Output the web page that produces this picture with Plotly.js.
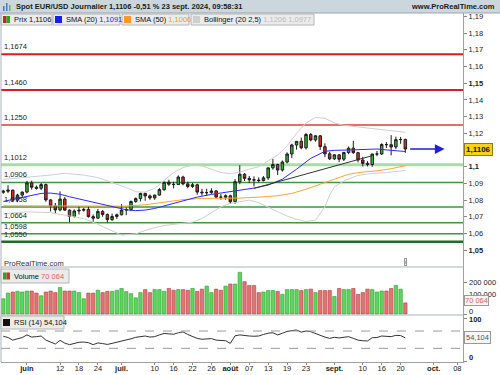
<!DOCTYPE html>
<html><head><meta charset="utf-8">
<script src="https://cdn.plot.ly/plotly-3.0.1.min.js"></script>
<style>html,body{margin:0;padding:0;background:#fff}#chart{width:500px;height:375px}</style>
</head><body><div id="chart"></div>
<script>
// ---------------- DATA ----------------
const dates = [
 '2024-05-27','2024-05-28','2024-05-29','2024-05-30','2024-05-31',
 '2024-06-03','2024-06-04','2024-06-05','2024-06-06','2024-06-07','2024-06-10','2024-06-11','2024-06-12','2024-06-13','2024-06-14',
 '2024-06-17','2024-06-18','2024-06-19','2024-06-20','2024-06-21','2024-06-24','2024-06-25','2024-06-26','2024-06-27','2024-06-28',
 '2024-07-01','2024-07-02','2024-07-03','2024-07-04','2024-07-05','2024-07-08','2024-07-09','2024-07-10','2024-07-11','2024-07-12',
 '2024-07-15','2024-07-16','2024-07-17','2024-07-18','2024-07-19','2024-07-22','2024-07-23','2024-07-24','2024-07-25','2024-07-26',
 '2024-07-29','2024-07-30','2024-07-31','2024-08-01','2024-08-02','2024-08-05','2024-08-06','2024-08-07','2024-08-08','2024-08-09',
 '2024-08-12','2024-08-13','2024-08-14','2024-08-15','2024-08-16','2024-08-19','2024-08-20','2024-08-21','2024-08-22','2024-08-23',
 '2024-08-26','2024-08-27','2024-08-28','2024-08-29','2024-08-30','2024-09-02','2024-09-03','2024-09-04','2024-09-05','2024-09-06',
 '2024-09-09','2024-09-10','2024-09-11','2024-09-12','2024-09-13','2024-09-16','2024-09-17','2024-09-18','2024-09-19','2024-09-20','2024-09-23'];
const opens = [1.0847,1.0853,1.0860,1.0800,1.0830, 1.0848,1.0903,1.0877,1.0871,1.0893,1.0801,1.0765,1.0741,1.0806,1.0740,
 1.0702,1.0735,1.0739,1.0744,1.0701,1.0692,1.0732,1.0714,1.0683,1.0702, 1.0712,1.0740,1.0743,1.0792,1.0809,1.0840,1.0825,1.0813,1.0830,1.0863,
 1.0907,1.0895,1.0893,1.0938,1.0897,1.0882,1.0892,1.0848,1.0844,1.0845, 1.0855,1.0818,1.0817,1.0826,1.0790,1.0910,1.0955,1.0930,1.0922,1.0920,
 1.0917,1.0933,1.0993,1.1013,1.0980,1.1028,1.1076,1.1130,1.1152,1.1113, 1.1193,1.1160,1.1185,1.1120,1.1077,1.1047,1.1071,1.1045,1.1085,1.1111,
 1.1084,1.1040,1.1020,1.1013,1.1076,1.1076,1.1133,1.1132,1.1118,1.1162,1.1163];
const highs = [1.0862,1.0889,1.0862,1.0838,1.0852, 1.0915,1.0916,1.0887,1.0902,1.0899,1.0806,1.0783,1.0852,1.0818,1.0744,
 1.0744,1.0761,1.0753,1.0761,1.0714,1.0747,1.0741,1.0720,1.0719,1.0719, 1.0776,1.0755,1.0797,1.0816,1.0845,1.0845,1.0834,1.0832,1.0872,1.0910,
 1.0922,1.0910,1.0948,1.0946,1.0910,1.0903,1.0898,1.0867,1.0868,1.0871, 1.0859,1.0836,1.0834,1.0832,1.0925,1.1009,1.0962,1.0945,1.0942,1.0936,
 1.0944,1.0995,1.1047,1.1018,1.1037,1.1086,1.1137,1.1153,1.1174,1.1201, 1.1202,1.1190,1.1189,1.1140,1.1089,1.1075,1.1076,1.1089,1.1121,1.1155,
 1.1089,1.1059,1.1033,1.1077,1.1094,1.1140,1.1147,1.1189,1.1180,1.1178,1.1168];
const lows = [1.0838,1.0842,1.0788,1.0788,1.0812, 1.0840,1.0863,1.0863,1.0860,1.0790,1.0732,1.0716,1.0733,1.0736,1.0668,
 1.0695,1.0714,1.0731,1.0695,1.0670,1.0688,1.0700,1.0666,1.0675,1.0687, 1.0709,1.0710,1.0734,1.0784,1.0792,1.0796,1.0802,1.0802,1.0827,1.0855,
 1.0885,1.0870,1.0891,1.0889,1.0871,1.0873,1.0832,1.0827,1.0825,1.0837, 1.0808,1.0802,1.0802,1.0777,1.0778,1.0895,1.0914,1.0902,1.0882,1.0906,
 1.0912,1.0921,1.0982,1.0950,1.0971,1.1020,1.1051,1.1102,1.1105,1.1103, 1.1152,1.1150,1.1100,1.1057,1.1040,1.1040,1.1027,1.1034,1.1075,1.1077,
 1.1026,1.1002,1.1002,1.1000,1.1063,1.1070,1.1112,1.1068,1.1105,1.1137,1.1083];
const closes = [1.0853,1.0860,1.0800,1.0830,1.0848, 1.0903,1.0877,1.0871,1.0893,1.0801,1.0765,1.0741,1.0806,1.0740,1.0702,
 1.0735,1.0739,1.0744,1.0701,1.0692,1.0732,1.0714,1.0683,1.0702,1.0712, 1.0740,1.0743,1.0792,1.0809,1.0840,1.0825,1.0813,1.0830,1.0863,1.0907,
 1.0895,1.0893,1.0938,1.0897,1.0882,1.0892,1.0848,1.0844,1.0845,1.0855, 1.0818,1.0817,1.0826,1.0790,1.0910,1.0955,1.0930,1.0922,1.0920,1.0917,
 1.0933,1.0993,1.1013,1.0980,1.1028,1.1076,1.1130,1.1152,1.1113,1.1193, 1.1160,1.1185,1.1120,1.1077,1.1047,1.1071,1.1045,1.1085,1.1111,1.1084,
 1.1040,1.1020,1.1013,1.1076,1.1076,1.1133,1.1132,1.1118,1.1162,1.1163,1.1106];
const volumes = [96000,132000,139000,143000,139000,145000,145000,132000,115000,139000,145000,135000,167000,145000,145000,145000,135000,96000,132000,132000,
 150000,135000,143000,143000,150000,161000,141000,128000,102000,135000,154000,135000,154000,154000,143000,161000,150000,154000,154000,150000,
 161000,143000,157000,176000,135000,157000,150000,176000,189000,189000,263000,204000,180000,180000,135000,139000,148000,148000,143000,124000,
 154000,154000,154000,148000,154000,157000,135000,148000,148000,148000,111000,161000,154000,154000,161000,124000,135000,157000,154000,139000,
 145000,145000,161000,180000,157000,70064];
const rsi14 = [58,55,49,52,55,61,56,57,58.5,49,44,40,48.5,42,38.5,42,44,44.5,43,38.5,
 42.5,41,39,41.5,44,46,49,52,55.5,57,58.5,56,57,61,64.5,63.5,62.5,66,68,62,
 58,53,51,51.5,52.5,49,47.5,47.5,41.5,59,61,59,58.5,58,58.5,62,65,66,61,65,
 69,71,72.4,67.5,70,68.5,64,61,56,53,55.5,54,56,57,53,49,47.5,47,54.5,55,
 58.5,58,57,60,59.5,54.104];

const sma20Dates = ['2024-05-27','2024-05-31','2024-06-06','2024-06-10','2024-06-12','2024-06-14','2024-06-19','2024-06-24','2024-06-27','2024-07-02','2024-07-04','2024-07-08','2024-07-10','2024-07-15','2024-07-18','2024-07-23','2024-07-26','2024-07-31','2024-08-05','2024-08-08','2024-08-13','2024-08-16','2024-08-21','2024-08-26','2024-08-29','2024-09-02','2024-09-05','2024-09-10','2024-09-13','2024-09-18','2024-09-23'];
const sma20Vals = [1.0792,1.0815,1.0840,1.0842,1.0835,1.0820,1.0800,1.0782,1.0758,1.0742,1.0737,1.0740,1.0750,1.0772,1.0796,1.0818,1.0834,1.0846,1.0858,1.0872,1.0890,1.0925,1.0985,1.1050,1.1092,1.1098,1.1100,1.1104,1.1106,1.1098,1.1091];
const sma50Dates = ['2024-05-27','2024-06-10','2024-06-24','2024-07-02','2024-07-08','2024-07-12','2024-07-18','2024-07-24','2024-07-30','2024-08-05','2024-08-09','2024-08-15','2024-08-20','2024-08-23','2024-08-28','2024-09-02','2024-09-05','2024-09-10','2024-09-13','2024-09-18','2024-09-23'];
const sma50Vals = [1.0766,1.0764,1.0762,1.0764,1.0772,1.0788,1.0803,1.0810,1.0810,1.0812,1.0818,1.0826,1.0840,1.0865,1.0895,1.0925,1.0955,1.0968,1.0975,1.0988,1.1006];
const bbUpDates = ['2024-05-27','2024-06-03','2024-06-10','2024-06-13','2024-06-19','2024-06-24','2024-06-27','2024-07-02','2024-07-04','2024-07-08','2024-07-10','2024-07-12','2024-07-16','2024-07-18','2024-07-22','2024-07-24','2024-07-26','2024-07-30','2024-08-01','2024-08-05','2024-08-07','2024-08-09','2024-08-13','2024-08-15','2024-08-19','2024-08-21','2024-08-23','2024-08-27','2024-08-29','2024-09-02','2024-09-04','2024-09-09','2024-09-12','2024-09-17','2024-09-23'];
const bbUpVals = [1.0924,1.0935,1.0950,1.0960,1.0950,1.0935,1.0905,1.0875,1.0850,1.0848,1.0870,1.0920,1.0965,1.0995,1.1010,1.1005,1.0985,1.0965,1.0958,1.0968,1.0985,1.1000,1.1035,1.1070,1.1125,1.1200,1.1262,1.1295,1.1290,1.1262,1.1248,1.1238,1.1228,1.1220,1.1206];
const bbLoDates = ['2024-05-27','2024-06-03','2024-06-10','2024-06-14','2024-06-19','2024-06-24','2024-06-27','2024-07-01','2024-07-04','2024-07-09','2024-07-12','2024-07-17','2024-07-22','2024-07-24','2024-07-26','2024-07-30','2024-08-01','2024-08-05','2024-08-07','2024-08-09','2024-08-13','2024-08-15','2024-08-19','2024-08-21','2024-08-23','2024-08-27','2024-08-29','2024-08-30','2024-09-02','2024-09-04','2024-09-09','2024-09-12','2024-09-17','2024-09-23'];
const bbLoVals = [1.0718,1.0730,1.0725,1.0705,1.0690,1.0655,1.0615,1.0590,1.0598,1.0628,1.0648,1.0658,1.0668,1.0690,1.0725,1.0760,1.0780,1.0792,1.0800,1.0785,1.0755,1.0730,1.0705,1.0685,1.0672,1.0680,1.0760,1.0830,1.0880,1.0915,1.0948,1.0960,1.0965,1.0977];
const trendDates = ['2024-08-08','2024-09-12'];
const trendVals = [1.0870,1.1066];

const levelValues = [1.1674,1.1460,1.1250,1.1012,1.0906,1.0758,1.0664,1.0598,1.0550];
const levelLabels = ['1,1674','1,1460','1,1250','1,1012','1,0906','1,0758','1,0664','1,0598','1,0550'];
const levelColors = ['#e01b1b','#e01b1b','#e43a3a','#a9dca9','#3a9a3a','#3a9a3a','#3a9a3a','#3a9a3a','#1f6f1f'];
const levelWidths = [2,2,1.5,3,1.5,1.5,1.5,1.5,2.5];

const tickDates = ['2024-06-03','2024-06-12','2024-06-18','2024-06-24','2024-07-01','2024-07-10','2024-07-16','2024-07-22','2024-07-26','2024-08-01','2024-08-07','2024-08-13','2024-08-19','2024-08-23','2024-09-02','2024-09-10','2024-09-16','2024-09-20','2024-10-01','2024-10-08'];
const tickLabels = ['<b>juin</b>','12','18','24','<b>juil.</b>','10','16','22','26','<b>août</b>','07','13','19','23','<b>sept.</b>','10','16','20','<b>oct.</b>','08'];
const priceTicks = [1.05,1.06,1.07,1.08,1.09,1.10,1.11,1.12,1.13,1.14,1.15,1.16,1.17,1.18,1.19];
const priceTickText = ['<b>1,05</b>','1,06','1,07','1,08','1,09','<b>1,1</b>','','1,12','1,13','1,14','<b>1,15</b>','1,16','1,17','1,18','1,19'];

const lastPrice = 1.1106, lastPriceText = '1,1106';
const lastVolText = '70 064', lastRsiText = '54,104';
const titleText = 'Spot EUR/USD Journalier 1,1106 -0,51 % 23 sept. 2024, 09:58:31';

// ---------------- HELPERS ----------------
function tIdx(ds){
  const p=ds.split('-').map(Number);
  const t=Date.UTC(p[0],p[1]-1,p[2]); const s=Date.UTC(2024,4,27);
  let n=0; for(let d=s; d<t; d+=86400000){const w=new Date(d).getUTCDay(); if(w!==0&&w!==6) n++;}
  return n;
}
const X = dates.map(tIdx);
const PL=1, PR=463, PT=13, PB=362;
const px = x => (x-PL)/(PR-PL);
const py = y => (PB-y)/(PB-PT);
const FONT = 'Liberation Sans, Arial, sans-serif';

const green='#2fb82f', red='#e02626';
const volColors = closes.map((c,i)=> c>=opens[i] ? '#5cd65c' : '#e27474');
const volLine = closes.map((c,i)=> c>=opens[i] ? '#2e9e2e' : '#b83c3c');

const traces = [
  {type:'scatter',mode:'lines',x:bbUpDates.map(tIdx),y:bbUpVals,line:{color:'#cfcfcf',width:1},xaxis:'x',yaxis:'y'},
  {type:'scatter',mode:'lines',x:bbLoDates.map(tIdx),y:bbLoVals,line:{color:'#cfcfcf',width:1},xaxis:'x',yaxis:'y'},
  {type:'candlestick',x:X,open:opens,high:highs,low:lows,close:closes,xaxis:'x',yaxis:'y',
    increasing:{line:{color:'#1d1d1d',width:1},fillcolor:green},
    decreasing:{line:{color:'#1d1d1d',width:1},fillcolor:red}},
  {type:'scatter',mode:'lines',x:sma50Dates.map(tIdx),y:sma50Vals,line:{color:'#ffa431',width:1},xaxis:'x',yaxis:'y'},
  {type:'scatter',mode:'lines',x:sma20Dates.map(tIdx),y:sma20Vals,line:{color:'#2a2aff',width:1},xaxis:'x',yaxis:'y'},
  {type:'scatter',mode:'lines',x:trendDates.map(tIdx),y:trendVals,line:{color:'#333',width:1},xaxis:'x',yaxis:'y'},
  {type:'bar',x:X,y:volumes,width:0.72,marker:{color:volColors,line:{color:volLine,width:0.6}},xaxis:'x',yaxis:'y2'},
  {type:'scatter',mode:'lines',x:X,y:rsi14,line:{color:'#333',width:1},xaxis:'x',yaxis:'y3'}
];

const shapes = [];
const ann = [];
shapes.push({type:'rect',xref:'paper',yref:'paper',x0:px(0),x1:px(500),y0:py(13),y1:py(0),fillcolor:'#ccd6dd',line:{width:0},layer:'above'});
shapes.push({type:'line',xref:'paper',yref:'paper',x0:px(0),x1:px(500),y0:py(13),y1:py(13),line:{color:'#9aa6ae',width:1}});
shapes.push({type:'rect',xref:'paper',yref:'paper',x0:px(3),x1:px(4.5),y0:py(11),y1:py(6),fillcolor:'#3a7bd5',line:{width:0}});
shapes.push({type:'rect',xref:'paper',yref:'paper',x0:px(6),x1:px(7.5),y0:py(11),y1:py(3),fillcolor:'#3a7bd5',line:{width:0}});
shapes.push({type:'rect',xref:'paper',yref:'paper',x0:px(9),x1:px(10.5),y0:py(11),y1:py(5),fillcolor:'#6ab04c',line:{width:0}});
ann.push({xref:'paper',yref:'paper',x:px(14),y:py(6.5),xanchor:'left',yanchor:'middle',showarrow:false,text:'<b>'+titleText+'</b>',font:{family:FONT,size:7.5,color:'#1a1a1a'}});
ann.push({xref:'paper',yref:'paper',x:px(497),y:py(6.5),xanchor:'right',yanchor:'middle',showarrow:false,text:'<b>www.ProRealTime.com</b>',font:{family:FONT,size:7.5,color:'#1a1a1a'}});

function legBox(x0,x1,y0,y1){shapes.push({type:'rect',xref:'paper',yref:'paper',x0:px(x0),x1:px(x1),y0:py(y1),y1:py(y0),fillcolor:'#ebebeb',line:{color:'#b5b5b5',width:1},layer:'above'});}
function icon(x0,y0,c1,c2){
  shapes.push({type:'rect',xref:'paper',yref:'paper',x0:px(x0),x1:px(x0+(c2?3.5:7)),y0:py(y0+7),y1:py(y0),fillcolor:c1,line:{width:0},layer:'above'});
  if(c2) shapes.push({type:'rect',xref:'paper',yref:'paper',x0:px(x0+3.5),x1:px(x0+7),y0:py(y0+7),y1:py(y0),fillcolor:c2,line:{width:0},layer:'above'});
}
function legText(x,yc,t){ann.push({xref:'paper',yref:'paper',x:px(x),y:py(yc),xanchor:'left',yanchor:'middle',showarrow:false,text:t,font:{family:FONT,size:7.5,color:'#111'}});}
legBox(1,52,14,25); icon(3,16,'#cc2222','#22aa22'); legText(11.5,19.7,'Prix 1,1106');
legBox(53,120,14,25); icon(55,16,'#1a1aff'); legText(63.5,19.7,'SMA (20) <span style="color:#2222ff">1,1091</span>');
legBox(122,189,14,25); icon(124,16,'#ff9a1e'); legText(132.5,19.7,'SMA (50) <span style="color:#f39a2a">1,1006</span>');
legBox(191,314,14,25); icon(193,16,'#cfcfcf'); legText(201.5,19.7,'Bollinger (20 2,5) <span style="color:#bdbdbd">1,1206 1,0977</span>');

levelValues.forEach((v,i)=>{
  shapes.push({type:'line',xref:'paper',yref:'y',x0:0,x1:1,y0:v,y1:v,line:{color:levelColors[i],width:levelWidths[i]},layer:'below'});
  ann.push({xref:'paper',yref:'y',x:px(2),y:v,xanchor:'left',yanchor:'bottom',yshift:1,showarrow:false,text:levelLabels[i],font:{family:FONT,size:7.5,color:'#222'}});
});
shapes.push({type:'line',xref:'paper',yref:'paper',x0:0,x1:1,y0:py(267),y1:py(267),line:{color:'#a9b3ba',width:1}});
shapes.push({type:'line',xref:'paper',yref:'paper',x0:0,x1:1,y0:py(315),y1:py(315),line:{color:'#a9b3ba',width:1}});
shapes.push({type:'line',xref:'paper',yref:'paper',x0:0,x1:0,y0:0,y1:py(13),line:{color:'#a9b3ba',width:1}});
[70,30].forEach(v=>shapes.push({type:'line',xref:'paper',yref:'y3',x0:0,x1:1,y0:v,y1:v,line:{color:'#9a9a9a',width:1,dash:'dash'}}));

ann.push({xref:'x',yref:'y',x:tIdx('2024-09-23')+8.3,y:lastPrice,axref:'x',ayref:'y',ax:tIdx('2024-09-23')+0.7,ay:lastPrice,
  showarrow:true,arrowhead:2,arrowsize:1.3,arrowwidth:1.5,arrowcolor:'#1f1fdc',text:''});
ann.push({xref:'paper',yref:'y',x:px(464),y:lastPrice,xanchor:'left',yanchor:'middle',showarrow:false,text:'<b>'+lastPriceText+'</b>',
  bgcolor:'#f6d21a',bordercolor:'#8f7a1a',borderwidth:1,borderpad:1,font:{family:FONT,size:8,color:'#111'}});

ann.push({xref:'paper',yref:'paper',x:px(2),y:py(263.5),xanchor:'left',yanchor:'middle',showarrow:false,text:'ProRealTime.com',font:{family:FONT,size:7.5,color:'#333'}});
ann.push({xref:'paper',yref:'paper',x:px(405),y:py(261.5),xanchor:'center',yanchor:'middle',showarrow:false,text:'i',bgcolor:'#f2f2f2',bordercolor:'#9a9a9a',borderwidth:1,borderpad:0,font:{family:FONT,size:6,color:'#666'}});

legBox(1,69,269,283); icon(3,272.5,'#22aa22','#cc3333'); legText(12,276.2,'Volume <span style="color:#e06060">'+lastVolText+'</span>');
legBox(1,64,316,329); icon(3,319,'#111'); legText(12,322.7,'RSI (14) '+lastRsiText);

function rlab(yref,y,t,shift){ann.push({xref:'paper',yref:yref,x:px(467),y:y,xanchor:'left',yanchor:'middle',yshift:shift||0,showarrow:false,text:t,font:{family:FONT,size:7.5,color:'#222'}});}
rlab('y2',200000,'200 000'); rlab('y2',100000,'100 000',4); rlab('y2',0,'0',3);
rlab('y3',100,'<b>100</b>',-1); rlab('y3',0,'<b>0</b>',4);
ann.push({xref:'paper',yref:'y2',x:px(464),y:volumes[volumes.length-1],xanchor:'left',yanchor:'middle',yshift:2,showarrow:false,text:lastVolText,
  bgcolor:'#f7f7f7',bordercolor:'#9a9a9a',borderwidth:1,borderpad:0,font:{family:FONT,size:7.5,color:'#e06060'}});
ann.push({xref:'paper',yref:'y3',x:px(464),y:rsi14[rsi14.length-1],xanchor:'left',yanchor:'middle',showarrow:false,text:lastRsiText,
  bgcolor:'#f7f7f7',bordercolor:'#9a9a9a',borderwidth:1,borderpad:1,font:{family:FONT,size:7.5,color:'#555'}});

const axCommon = {showgrid:false,zeroline:false,showline:true,linecolor:'#a0a0a0',linewidth:1,fixedrange:true};
const layout = {
  width:500,height:375,margin:{l:PL,r:500-PR,t:PT,b:375-PB},
  paper_bgcolor:'#ffffff',plot_bgcolor:'#ffffff',showlegend:false,hovermode:false,
  font:{family:FONT,size:7.5,color:'#222'},
  boxgap:0.25,
  xaxis:Object.assign({},axCommon,{range:[-0.486,97.19],anchor:'y3',rangeslider:{visible:false},
    tickvals:tickDates.map(tIdx),ticktext:tickLabels,ticks:'outside',ticklen:2,tickcolor:'#888',ticklabelstandoff:-3,tickfont:{size:7.5,color:'#222'}}),
  yaxis:Object.assign({},axCommon,{domain:[py(267),1],range:[1.03994,1.19204],side:'right',anchor:'x',
    tickvals:priceTicks,ticktext:priceTickText,ticks:'outside',ticklen:3,tickcolor:'#888',tickfont:{size:7.5,color:'#222'}}),
  yaxis2:Object.assign({},axCommon,{domain:[py(315),py(267)],range:[-6300,296500],side:'right',anchor:'x',
    tickvals:[0,100000,200000],ticks:'outside',ticklen:3,tickcolor:'#888',showticklabels:false}),
  yaxis3:Object.assign({},axCommon,{domain:[0,py(315)],range:[-1.6,107.05],side:'right',anchor:'x',
    tickvals:[0,100],ticks:'outside',ticklen:3,tickcolor:'#888',showticklabels:false}),
  shapes:shapes,annotations:ann
};
Plotly.newPlot('chart',traces,layout,{staticPlot:true,displayModeBar:false});
</script></body></html>
